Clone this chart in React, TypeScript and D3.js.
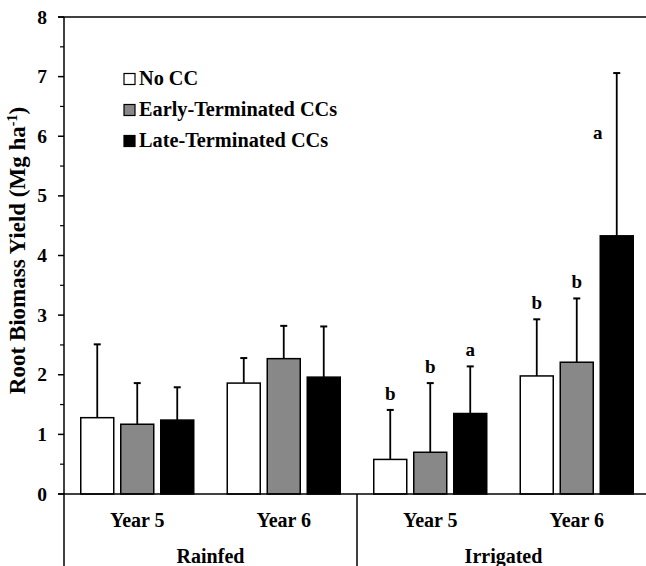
import React from "react";
import * as d3 from "d3";

const groups = ["Rainfed", "Irrigated"];
const years = ["Year 5", "Year 6"];
const series = ["No CC", "Early-Terminated CCs", "Late-Terminated CCs"];
const colors = ["#ffffff", "#888888", "#000000"];
// per cluster (Rainfed Y5, Rainfed Y6, Irrigated Y5, Irrigated Y6)
const noCC = [1.28, 1.86, 0.58, 1.98];
const early = [1.17, 2.27, 0.7, 2.21];
const late = [1.24, 1.96, 1.35, 4.33];
const noCCErr = [2.51, 2.28, 1.41, 2.93];
const earlyErr = [1.86, 2.82, 1.86, 3.28];
const lateErr = [1.79, 2.81, 2.14, 7.06];
const letters = [
  ["", "", "b", "b"],
  ["", "", "b", "b"],
  ["", "", "a", "a"],
];
const yTicks = [0, 1, 2, 3, 4, 5, 6, 7, 8];
const minorTicks = [0.5, 1.5, 2.5, 3.5, 4.5, 5.5, 6.5, 7.5];

export default function App() {
  const W = 646, H = 566;
  const left = 64, right = 650, top = 17, bottom = 494;
  const clusters = d3.range(4).map(String);
  const x0 = d3.scaleBand().domain(clusters).range([left, right]).padding(0);
  const x1 = d3
    .scaleBand()
    .domain(series)
    .range([0, x0.bandwidth()])
    .paddingInner(0.175)
    .paddingOuter(0.419);
  const y = d3.scaleLinear().domain([0, 8]).range([bottom, top]);
  const vals = [noCC, early, late];
  const errs = [noCCErr, earlyErr, lateErr];
  const font = "'Liberation Serif', 'Times New Roman', serif";
  const bw = x1.bandwidth();

  return (
    <svg width={W} height={H} style={{ position: "absolute", left: 0, top: 0 }} fontFamily={font} fontWeight="bold">
      <rect x={0} y={0} width={W} height={H} fill="#fff" />
      {/* bars */}
      {clusters.map((c, ci) =>
        series.map((s, si) => {
          const bx = (x0(c) as number) + (x1(s) as number);
          const v = vals[si][ci];
          const e = errs[si][ci];
          const cx = bx + bw / 2;
          const letter = letters[si][ci];
          const isTall = si === 2 && ci === 3;
          return (
            <g key={c + s}>
              <line x1={cx} x2={cx} y1={y(v)} y2={y(e)} stroke="#000" strokeWidth={1.8} />
              <line x1={cx - 3.5} x2={cx + 3.5} y1={y(e)} y2={y(e)} stroke="#000" strokeWidth={2} />
              <rect x={bx} y={y(v)} width={bw} height={bottom - y(v)} fill={colors[si]} stroke="#000" strokeWidth={1.5} />
              {letter && (
                <text
                  x={isTall ? cx - 19 : cx}
                  y={isTall ? y(5.95) : y(e) - 10}
                  textAnchor="middle"
                  fontSize={19}
                >
                  {letter}
                </text>
              )}
            </g>
          );
        })
      )}
      {/* y axis */}
      <line x1={left} x2={left} y1={top} y2={H} stroke="#000" strokeWidth={1.5} />
      {yTicks.map((t) => (
        <g key={t}>
          <line x1={left - 6} x2={left} y1={y(t)} y2={y(t)} stroke="#000" strokeWidth={1.5} />
          <text x={left - 17} y={y(t) + 6.5} textAnchor="end" fontSize={19.5}>
            {t}
          </text>
        </g>
      ))}
      {minorTicks.map((t) => (
        <line key={t} x1={left - 4} x2={left} y1={y(t)} y2={y(t)} stroke="#000" strokeWidth={1.2} />
      ))}
      {/* top frame line */}
      <line x1={left - 6} x2={W} y1={y(8)} y2={y(8)} stroke="#000" strokeWidth={1.5} />
      {/* x axis */}
      <line x1={left - 6} x2={W} y1={bottom} y2={bottom} stroke="#000" strokeWidth={1.5} />
      <line x1={x0("2") as number} x2={x0("2") as number} y1={bottom} y2={H} stroke="#000" strokeWidth={1.5} />
      {clusters.map((c, ci) => (
        <text key={c} x={(x0(c) as number) + x0.bandwidth() / 2} y={bottom + 33} textAnchor="middle" fontSize={20}>
          {years[ci % 2]}
        </text>
      ))}
      {groups.map((g, gi) => (
        <text key={g} x={left + (gi + 0.5) * 2 * x0.bandwidth()} y={bottom + 69} textAnchor="middle" fontSize={20}>
          {g}
        </text>
      ))}
      {/* y title */}
      <text transform={`translate(25,${(top + bottom) / 2 - 5}) rotate(-90)`} textAnchor="middle" fontSize={23}>
        Root Biomass Yield (Mg ha
        <tspan dy={-8} fontSize={14}>-1</tspan>
        <tspan dy={8}>)</tspan>
      </text>
      {/* legend */}
      {series.map((s, si) => (
        <g key={s} transform={`translate(124,${73.5 + si * 31})`}>
          <rect x={0} y={0} width={11} height={11} fill={colors[si]} stroke="#000" strokeWidth={1.2} />
          <text x={15} y={11.5} fontSize={20.3}>
            {s}
          </text>
        </g>
      ))}
    </svg>
  );
}
